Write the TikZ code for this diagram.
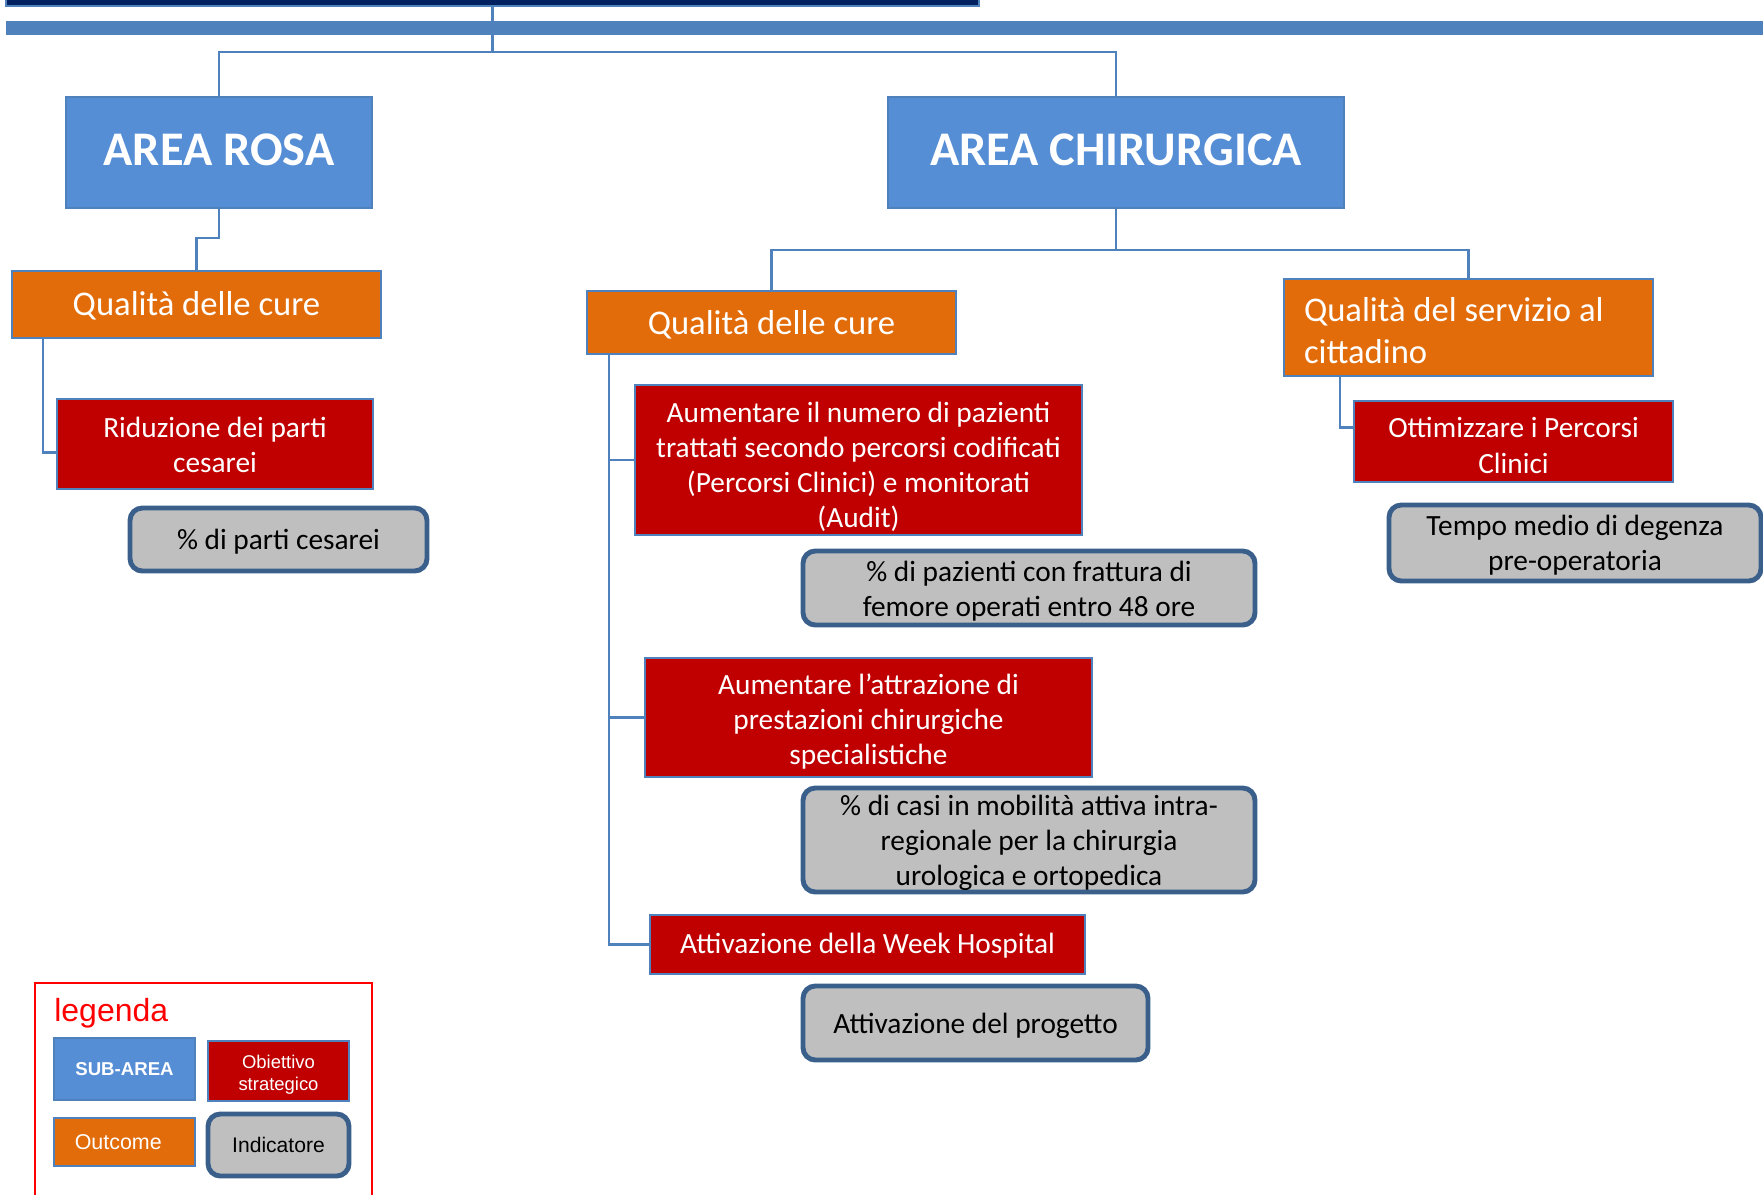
\documentclass[tikz,border=0pt]{standalone}
\usepackage{fontspec}
\setmainfont{Carlito}
\newfontfamily\arialf{Liberation Sans}
\definecolor{cNavy}{HTML}{002060}
\definecolor{cBar}{HTML}{4F81BD}
\definecolor{cLine}{HTML}{4F81BD}
\definecolor{cBlue}{HTML}{558ED5}
\definecolor{cBorder}{HTML}{4F81BD}
\definecolor{cOrange}{HTML}{E36C0A}
\definecolor{cRed}{HTML}{C00000}
\definecolor{cGray}{HTML}{BFBFBF}
\definecolor{cDark}{HTML}{3A5F8B}
\definecolor{cLeg}{HTML}{FF0000}
\tikzset{
  conn/.style={draw=cLine, line width=1.2pt},
  basebox/.style={inner sep=0pt, outer sep=0pt, align=center},
  subarea/.style={basebox, fill=cBlue, draw=cBorder, line width=1.4pt, text=white,
    font=\bfseries\fontsize{27.5}{33}\selectfont},
  outc/.style={basebox, fill=cOrange, draw=cBorder, line width=1.4pt, text=white,
    font=\fontsize{19.7}{23.8}\selectfont},
  obj/.style={basebox, fill=cRed, draw=cBorder, line width=1.4pt, text=white,
    font=\fontsize{16.7}{20}\selectfont},
  ind/.style={basebox, fill=cGray, draw=cDark, line width=2.8pt, rounded corners=7pt, text=black,
    font=\fontsize{16.7}{20}\selectfont},
}
% \mybox[text shift down, px]{name}{x1}{y1}{x2}{y2}{style}{text}
\newcommand\mybox[8][0]{%
  \node[#7, minimum width={(#5-#3)*0.02cm}, minimum height={(#6-#4)*0.02cm}] (#2) at ({(#3+#5)/2},{(#4+#6)/2}) {};
  \node[#7, draw=none, fill=none, minimum width=0pt, minimum height=0pt] (#2-t) at ([yshift={-(#1)*0.02cm}]#2.center) {#8};}
\begin{document}
\begin{tikzpicture}[x=0.02cm,y=-0.02cm]
\useasboundingbox (0,0) rectangle (1763,1194);
% top bars
\node[fill=cNavy, draw=cBar, line width=1pt, inner sep=0pt, minimum width={973*0.02cm}, minimum height={16*0.02cm}] (top) at (492.5,-2) {};
\node[fill=cBar, inner sep=0pt, minimum width={1762*0.02cm}, minimum height={14*0.02cm}] (bar) at (887,28) {};
% sub-areas
\mybox[-3]{rosa}{66}{97}{372}{208}{subarea}{AREA ROSA}
\mybox[-3]{chir}{888}{97}{1344}{208}{subarea}{AREA CHIRURGICA}
% outcomes
\mybox[1]{qual1}{12}{271}{381}{338}{outc}{Qualità delle cure}
\mybox[2]{qual2}{587}{291}{956}{354}{outc}{Qualità delle cure}
\mybox[3]{qual3}{1284}{279}{1653}{376}{outc, text width={329*0.02cm}, align=flush left}{Qualità del servizio al\\cittadino}
% objectives
\mybox[1]{rid1}{57}{399}{373}{489}{obj}{Riduzione dei parti\\cesarei}
\mybox[7]{aum1}{635}{385}{1082}{535}{obj}{Aumentare il numero di pazienti\\trattati secondo percorsi codificati\\(Percorsi Clinici) e monitorati\\(Audit)}
\mybox[4]{aum2}{645}{658}{1092}{777}{obj}{Aumentare l’attrazione di\\prestazioni chirurgiche\\specialistiche}
\mybox[1]{week}{650}{915}{1085}{974}{obj}{Attivazione della Week Hospital}
\mybox[4]{ott}{1354}{401}{1673}{482}{obj}{Ottimizzare i Percorsi\\Clinici}
% indicators
\mybox[2]{ind1}{130}{508}{427}{571}{ind}{\% di parti cesarei}
\mybox[3]{ind2}{803}{551}{1255}{625}{ind}{\% di pazienti con frattura di\\femore operati entro 48 ore}
\mybox[3]{ind3}{803}{788}{1255}{892}{ind}{\% di casi in mobilità attiva intra-\\regionale per la chirurgia\\urologica e ortopedica}
\mybox[3]{ind4}{803}{986}{1148}{1060}{ind}{Attivazione del progetto}
\mybox[2]{ind5}{1389}{505}{1761}{581}{ind}{Tempo medio di degenza\\pre-operatoria}
% connectors
\coordinate (hub) at (492.5,52);
\draw[conn] (top.south) -- (hub);
\draw[conn] (rosa.north) |- (hub) -| (chir.north);
\draw[conn] (rosa.south) -- ++(0,30) -| (qual1.north);
\draw[conn] (chir.south) -- ++(0,42) coordinate (hub2) -| (qual2.north);
\draw[conn] (hub2) -| (qual3.north);
\draw[conn] ([xshift=0.62cm]qual1.south west) |- ([yshift=-0.17cm]rid1.west);
\draw[conn] ([xshift=0.44cm]qual2.south west) |- (aum1.west);
\draw[conn] ([xshift=0.44cm]qual2.south west) |- (aum2.west);
\draw[conn] ([xshift=0.44cm]qual2.south west) |- (week.west);
\draw[conn] ([xshift=1.12cm]qual3.south west) |- ([yshift=0.28cm]ott.west);
% legend
\draw[draw=cLeg, line width=1.3pt] (35,1200) |- (372,983) coordinate (legtr) -- (372,1200);
\node[anchor=base west, inner sep=0pt, text=cLeg, font=\arialf\fontsize{18.2}{22}\selectfont] (legt) at (54,1021) {legenda};
\mybox{lsub}{54}{1038}{195}{1100}{subarea, font=\arialf\bfseries\fontsize{10.6}{13}\selectfont}{SUB-AREA}
\mybox[4]{lobj}{208}{1041}{349}{1101}{obj, font=\arialf\fontsize{10.5}{12.6}\selectfont}{Obiettivo\\strategico}
\mybox{lout}{54}{1118}{195}{1166}{outc, font=\arialf\fontsize{12.2}{14}\selectfont}{\hspace*{-0.25cm}Outcome}
\mybox{lind}{208}{1114}{349}{1176}{ind, font=\arialf\fontsize{12}{14}\selectfont}{Indicatore}
\end{tikzpicture}
\end{document}
